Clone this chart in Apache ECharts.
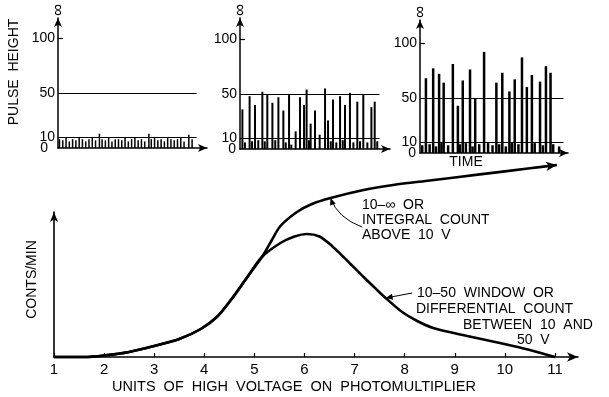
<!DOCTYPE html>
<html><head><meta charset="utf-8">
<script src="https://cdn.jsdelivr.net/npm/echarts@6/dist/echarts.min.js"></script>
<style>html,body{margin:0;padding:0;background:#fff}#c{width:609px;height:397px}</style>
</head><body><div id="c"></div>
<script>
// ---------- data ----------
const voltageTicks = [1, 2, 3, 4, 5, 6, 7, 8, 9, 10, 11];
const differentialX = [1, 1.6, 2, 2.5, 3, 3.5, 3.93, 4.25, 4.53, 4.86, 5.15, 5.52, 5.8, 6.05, 6.3, 6.55, 6.86, 7.18, 7.45, 7.62, 7.95, 8.25, 8.57, 9.25, 9.9, 10.5, 11];
const differentialY = [0, 0, 1.5, 5, 11, 18, 28, 40, 57, 80, 100, 114, 120.5, 123, 120.5, 111, 96, 80, 67, 59, 45, 36, 29, 21, 14, 7, 0];
const integralX = [1, 1.6, 2, 2.5, 3, 3.5, 3.93, 4.25, 4.53, 4.86, 5.15, 5.35, 5.52, 5.85, 6.15, 6.52, 7.18, 7.77, 8.5, 9.5, 10.5, 11.04];
const integralY = [0, 0, 1.5, 5, 11, 18, 28, 40, 57, 80, 100, 117, 131, 145, 153, 159, 167, 172, 176.5, 182.6, 188.7, 192];

const pulseTicks = [10, 50, 100];
const pulseZeroTick = [0];
const windowLevels = [10, 50];

const panel1Time = [1, 3.2, 5.4, 7.6, 9.8, 12, 14.2, 16.4, 18.6, 20.8, 23, 25.2, 27.8, 29.6, 31.8, 34, 36.2, 38.4, 40.6, 42.8, 45, 47.2, 49.4, 51.6, 53.8, 56, 58.2, 61, 62.6, 64.8, 67, 69.2, 71.4, 73.6, 75.8, 78, 80.2, 82.4, 84.6, 87.8, 90];
const panel1Height = [8, 7, 9, 6, 8, 7, 9, 8, 6, 8, 9, 7, 13, 8, 7, 9, 6, 8, 8, 7, 9, 6, 8, 9, 7, 8, 6, 13, 8, 9, 7, 8, 6, 9, 8, 7, 8, 9, 6, 12, 8];

const panel2Time = [1.6, 3.3, 6.4, 8, 10, 12.2, 14.9, 16.5, 18.2, 21.6, 23.5, 25.6, 28.9, 30.5, 32.7, 34.2, 37.1, 40, 42.7, 44.4, 46, 47.1, 50, 53.1, 56.7, 58.7, 60.5, 62, 64.2, 66.7, 68.5, 70, 73.3, 75.6, 78.2, 80, 82.2, 84.9, 87.6, 89.8, 91.5];
const panel2Height = [36, 6, 48, 7, 40, 8, 52, 7, 49, 42, 8, 47, 35, 6, 49, 4, 16, 47, 40, 54, 8, 23, 35, 13, 55, 26, 7, 45, 6, 48, 8, 40, 51, 6, 43, 7, 50, 6, 38, 43, 7];

const panel3Time = [1.5, 4, 6.5, 8.9, 10.8, 12.9, 14.5, 16, 19, 22.2, 25.6, 27, 28.9, 31, 33.8, 35.5, 37.3, 40, 43.3, 46, 49, 51.6, 53.5, 55.6, 58, 60.4, 62, 64, 66.5, 68.9, 72.2, 75.6, 77.5, 81.1, 83, 85.1, 88.2, 90, 94];
const panel3Height = [7, 68, 8, 77, 6, 72, 9, 64, 7, 81, 43, 8, 66, 9, 76, 6, 50, 8, 92, 9, 7, 64, 8, 73, 6, 56, 9, 67, 8, 87, 60, 71, 9, 65, 7, 79, 73, 8, 6];

// annotation anchor points (data coordinates on the main chart)
const integralPointerTip = [6.52, 159];
const integralPointerTail = [7.15, 130];
const differentialPointerTip = [7.62, 59];
const differentialPointerTail = [8.15, 64];

// ---------- chart ----------
const FONT = "'Liberation Sans', Arial, sans-serif";
const BLACK = '#000';
const zip = (a, b) => a.map((v, i) => [v, b[i]]);

const panels = [
  { left: 58, top: 18, right: 402, bottom: 249, max: 118, times: panel1Time, heights: panel1Height, lineEnd: 93, barWidth: 1.5, zeroMargin: 10 },
  { left: 240, top: 18, right: 219, bottom: 248, max: 119, times: panel2Time, heights: panel2Height, lineEnd: 93, barWidth: 2, zeroMargin: 4 },
  { left: 420, top: 20, right: 41, bottom: 244, max: 121, times: panel3Time, heights: panel3Height, lineEnd: 97, barWidth: 2.5, zeroMargin: 4 }
];

const grid = [], xAxis = [], yAxis = [], series = [];
const auxY = [];
panels.forEach((p, i) => {
  grid.push({ left: p.left, top: p.top, right: p.right, bottom: p.bottom, containLabel: false });
  xAxis.push({
    type: 'value', gridIndex: i, min: 0, max: 100,
    axisLine: { show: true, symbol: ['none', 'arrow'], symbolSize: [6, 9], lineStyle: { color: BLACK, width: 1.5 } },
    axisTick: { show: false }, axisLabel: { show: false }, splitLine: { show: false },
    name: i === 2 ? 'TIME' : '', nameLocation: 'middle', nameGap: 2,
    nameTextStyle: { color: BLACK, fontFamily: FONT, fontSize: 14, padding: [0, 56, 0, 0], verticalAlign: 'top' }
  });
  yAxis.push({
    type: 'value', gridIndex: i, min: 0, max: p.max,
    axisLine: { show: true, symbol: ['none', 'arrow'], symbolSize: [6, 9], lineStyle: { color: BLACK, width: 1.5 } },
    axisTick: { show: true, inside: true, length: 5, customValues: [100], lineStyle: { color: BLACK, width: 1.2 } },
    axisLabel: { show: true, customValues: pulseTicks, color: BLACK, fontFamily: FONT, fontSize: 14, margin: 3 },
    splitLine: { show: false },
    name: '∞', nameLocation: 'end', nameGap: 2, nameRotate: 90,
    nameTextStyle: { color: BLACK, fontFamily: FONT, fontSize: 17, align: 'left', verticalAlign: 'middle' }
  });
  auxY.push({
    type: 'value', gridIndex: i, min: 0, max: p.max, position: 'left',
    axisLine: { show: false }, axisTick: { show: false }, splitLine: { show: false },
    axisLabel: { show: true, customValues: pulseZeroTick, showMinLabel: true, color: BLACK, fontFamily: FONT, fontSize: 14, margin: p.zeroMargin }
  });
  series.push({
    type: 'bar', xAxisIndex: i, yAxisIndex: i, barWidth: p.barWidth,
    data: zip(p.times, p.heights),
    itemStyle: { color: BLACK }, silent: true,
    markLine: {
      silent: true, symbol: ['none', 'none'], label: { show: false },
      lineStyle: { color: BLACK, width: 1, type: 'solid' },
      data: windowLevels.map(v => [{ coord: [0, v] }, { coord: [p.lineEnd, v] }])
    }
  });
});

// main chart
grid.push({ left: 54, top: 212, right: 31, bottom: 40, containLabel: false });
xAxis.push({
  type: 'value', gridIndex: 3, min: 1, max: 11.46, interval: 1,
  axisLine: { show: true, symbol: ['none', 'arrow'], symbolSize: [7, 11], lineStyle: { color: BLACK, width: 1.6 } },
  axisTick: { show: true, inside: true, length: 4, customValues: voltageTicks, lineStyle: { color: BLACK, width: 1.2 } },
  axisLabel: { show: true, customValues: voltageTicks, color: BLACK, fontFamily: FONT, fontSize: 15, margin: 5 },
  splitLine: { show: false },
  name: 'UNITS  OF  HIGH  VOLTAGE  ON  PHOTOMULTIPLIER', nameLocation: 'middle', nameGap: 22,
  nameTextStyle: { color: BLACK, fontFamily: FONT, fontSize: 14.5, padding: [0, 44, 0, 0], verticalAlign: 'top' }
});
yAxis.push({
  type: 'value', gridIndex: 3, min: 0, max: 145,
  axisLine: { show: true, symbol: ['none', 'arrow'], symbolSize: [6, 10], lineStyle: { color: BLACK, width: 1.6 } },
  axisTick: { show: false }, axisLabel: { show: false }, splitLine: { show: false },
  name: 'CONTS/MIN', nameLocation: 'middle', nameGap: 15, nameRotate: 90,
  nameTextStyle: { color: BLACK, fontFamily: FONT, fontSize: 14, padding: [0, 0, 0, 10] }
});
auxY.forEach(a => yAxis.push(a));

const integralData = zip(integralX, integralY).map((d, i, arr) =>
  i === arr.length - 1 ? { value: d, symbol: 'arrow', symbolSize: [7, 11], symbolRotate: -83 } : { value: d, symbol: 'none' });

series.push({
  type: 'line', xAxisIndex: 3, yAxisIndex: 3, smooth: 0.3, clip: false,
  symbol: 'none', showSymbol: true, data: integralData,
  lineStyle: { color: BLACK, width: 2.6 }, itemStyle: { color: BLACK }
});
series.push({
  type: 'line', xAxisIndex: 3, yAxisIndex: 3, smooth: 0.3, clip: false,
  symbol: 'none', data: zip(differentialX, differentialY),
  lineStyle: { color: BLACK, width: 2.6 }
});

const txt = (text, x, y) => ({
  type: 'text', x: x, y: y, silent: true,
  style: { text: text, fill: BLACK, font: '14px ' + FONT, textAlign: 'left', textVerticalAlign: 'middle', align: 'left', verticalAlign: 'middle' }
});

const labels = [
  { type: 'text', x: 14, y: 72, rotation: Math.PI / 2, silent: true,
    style: { text: 'PULSE  HEIGHT', fill: BLACK, font: '14px ' + FONT, textAlign: 'center', textVerticalAlign: 'middle', align: 'center', verticalAlign: 'middle' } },
  txt('10–∞  OR', 362, 205),
  txt('INTEGRAL  COUNT', 362, 220),
  txt('ABOVE  10  V', 362, 235),
  txt('10–50  WINDOW  OR', 417, 293),
  txt('DIFFERENTIAL  COUNT', 416, 309),
  txt('BETWEEN  10  AND', 463, 325),
  txt('50  V', 517, 340)
];

const chart = echarts.init(document.getElementById('c'), null, { renderer: 'canvas' });
chart.setOption({
  animation: false, backgroundColor: '#fff',
  grid, xAxis, yAxis, series, graphic: labels
});

// pointer arrows anchored to data points of the main chart
function pointer(tipData, tailData, bend) {
  const tip = chart.convertToPixel({ gridIndex: 3 }, tipData);
  const tail = chart.convertToPixel({ gridIndex: 3 }, tailData);
  const cp = [tip[0] + bend[0], tip[1] + bend[1]];
  let dx = tip[0] - cp[0], dy = tip[1] - cp[1];
  const len = Math.hypot(dx, dy) || 1; dx /= len; dy /= len;
  const L = 7, W = 3;
  const head = [tip, [tip[0] - dx * L - dy * W, tip[1] - dy * L + dx * W], [tip[0] - dx * L + dy * W, tip[1] - dy * L - dx * W]];
  return [
    { type: 'bezierCurve', silent: true, shape: { x1: tail[0], y1: tail[1], x2: tip[0], y2: tip[1], cpx1: cp[0], cpy1: cp[1] },
      style: { stroke: BLACK, lineWidth: 1, fill: null } },
    { type: 'polygon', silent: true, shape: { points: head }, style: { fill: BLACK } }
  ];
}
const tailP = chart.convertToPixel({ gridIndex: 3 }, differentialPointerTail);
const tipP = chart.convertToPixel({ gridIndex: 3 }, differentialPointerTip);
chart.setOption({
  graphic: labels.concat(
    pointer(integralPointerTip, integralPointerTail, [7, 20]),
    pointer(differentialPointerTip, differentialPointerTail, [(tailP[0] - tipP[0]) / 2, (tailP[1] - tipP[1]) / 2])
  )
}, { replaceMerge: ['graphic'] });
</script></body></html>
